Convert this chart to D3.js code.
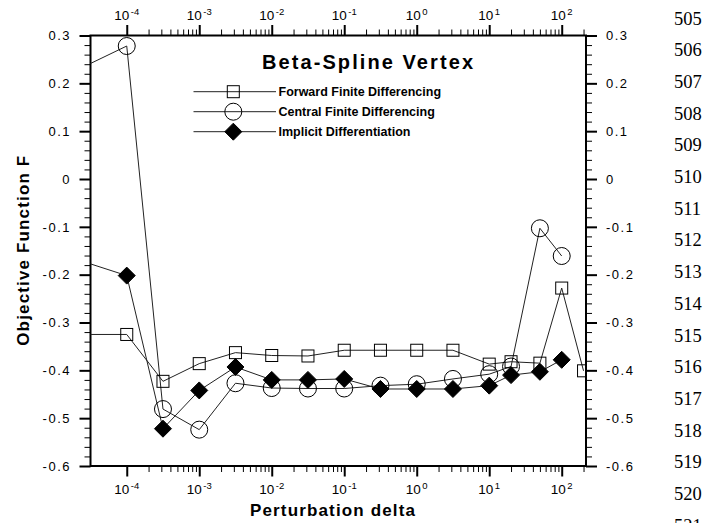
<!DOCTYPE html>
<html>
<head>
<meta charset="utf-8">
<script src="https://cdn.jsdelivr.net/npm/d3@7"></script>
<style>
  body { margin: 0; background: #fff; }
  svg { display: block; }
  text { font-family: "Liberation Sans", Arial, Helvetica, sans-serif; fill: #000; }
  .lineno { font-family: "Liberation Serif", "Times New Roman", serif; }
</style>
</head>
<body>
<script>
// Perturbation sizes (delta) used by the finite-difference studies
const deltas = [1e-5, 1e-4, 3.16e-4, 1e-3, 3.16e-3, 1e-2, 3.16e-2, 1e-1, 3.16e-1, 1, 3.16, 10, 20, 50, 100, 200];

// Objective function F for each method
const forwardFD = [-0.325, -0.325, -0.423, -0.386, -0.363, -0.369, -0.370, -0.358, -0.358, -0.358, -0.358, -0.387, -0.382, -0.385, -0.228, -0.401];
const centralFD = [0.205, 0.278, -0.481, -0.524, -0.427, -0.437, -0.438, -0.438, -0.432, -0.429, -0.418, -0.408, -0.392, -0.103, -0.161];
const implicitDiff = [-0.153, -0.202, -0.522, -0.442, -0.393, -0.420, -0.420, -0.418, -0.439, -0.439, -0.439, -0.432, -0.410, -0.403, -0.378];

const seriesNames = ["Forward Finite Differencing", "Central Finite Differencing", "Implicit Differentiation"];

// Axis ticks
const xMajorExps = [-4, -3, -2, -1, 0, 1, 2];
const yMajor = [0.3, 0.2, 0.1, 0, -0.1, -0.2, -0.3, -0.4, -0.5, -0.6];
const lineNumbers = d3.range(505, 522);

const W = 720, H = 523;
const plotL = 90.5, plotR = 586, plotT = 35.5, plotB = 466;

const x = d3.scaleLog().domain([Math.pow(10, -4.5), Math.pow(10, 2.335)]).range([plotL, plotR]);
const y = d3.scaleLinear().domain([-0.6, 0.3]).range([plotB, plotT]);

const svg = d3.select("body").append("svg").attr("width", W).attr("height", H);
svg.append("rect").attr("width", W).attr("height", H).attr("fill", "#fff");

// tick values
const xMajor = xMajorExps.map(e => Math.pow(10, e));
const xMinor = [];
for (let e = -4; e <= 2; e++) for (let k = 2; k <= 9; k++) {
  const v = k * Math.pow(10, e);
  if (v < x.domain()[1]) xMinor.push(v);
}
const yMinor = d3.range(-0.6, 0.3001, 0.02).map(v => +v.toFixed(2))
  .filter(v => !yMajor.some(m => Math.abs(m - v) < 1e-9));

function styleAxis(g, w) {
  g.select(".domain").remove();
  g.selectAll(".tick line").attr("stroke", "#000").attr("stroke-width", w);
  g.selectAll(".tick text").remove();
}

// bottom and top axes
[[d3.axisBottom, plotB], [d3.axisTop, plotT]].forEach(([axisFn, pos]) => {
  svg.append("g").attr("transform", `translate(0,${pos})`)
    .call(axisFn(x).tickValues(xMinor).tickSize(6).tickFormat(""))
    .call(g => styleAxis(g, 1));
  svg.append("g").attr("transform", `translate(0,${pos})`)
    .call(axisFn(x).tickValues(xMajor).tickSize(10.5).tickFormat(""))
    .call(g => styleAxis(g, 2));
});

// left and right axes
[[d3.axisLeft, plotL], [d3.axisRight, plotR]].forEach(([axisFn, pos]) => {
  svg.append("g").attr("transform", `translate(${pos},0)`)
    .call(axisFn(y).tickValues(yMinor).tickSize(6).tickFormat(""))
    .call(g => styleAxis(g, 1));
  svg.append("g").attr("transform", `translate(${pos},0)`)
    .call(axisFn(y).tickValues(yMajor).tickSize(11).tickFormat(""))
    .call(g => styleAxis(g, 2));
});

// frame
svg.append("rect").attr("x", plotL).attr("y", plotT)
  .attr("width", plotR - plotL).attr("height", plotB - plotT)
  .attr("fill", "none").attr("stroke", "#000").attr("stroke-width", 2);

// x tick labels with superscript exponents
function powerLabel(sel, e) {
  sel.append("tspan").text("10");
  sel.append("tspan").attr("font-size", 9.5).attr("dy", -5).attr("dx", 1.5).text(String(e));
}
xMajorExps.forEach(e => {
  svg.append("text").attr("x", x(Math.pow(10, e))).attr("y", 494)
    .attr("text-anchor", "middle").attr("font-size", 13.5).call(powerLabel, e);
  svg.append("text").attr("x", x(Math.pow(10, e))).attr("y", 19.5)
    .attr("text-anchor", "middle").attr("font-size", 13.5).call(powerLabel, e);
});

// y tick labels
const yFmt = v => String(+v.toFixed(1));
yMajor.forEach(v => {
  svg.append("text").attr("x", 71).attr("y", y(v)).attr("dy", "0.36em")
    .attr("text-anchor", "end").attr("font-size", 13).attr("letter-spacing", 1.5)
    .text(yFmt(v));
  svg.append("text").attr("x", 606).attr("y", y(v)).attr("dy", "0.36em")
    .attr("text-anchor", "start").attr("font-size", 13).attr("letter-spacing", 1.5)
    .text(yFmt(v));
});

// axis titles
svg.append("text").attr("x", 332.5).attr("y", 516)
  .attr("text-anchor", "middle").attr("font-size", 17).attr("font-weight", "bold")
  .attr("textLength", 165).attr("lengthAdjust", "spacing")
  .text("Perturbation delta");
svg.append("text").attr("transform", `translate(29,${(plotT + plotB) / 2}) rotate(-90)`)
  .attr("text-anchor", "middle").attr("font-size", 17).attr("font-weight", "bold")
  .attr("textLength", 190).attr("lengthAdjust", "spacing")
  .text("Objective Function F");

// data series, clipped to the plot frame
svg.append("clipPath").attr("id", "plotClip")
  .append("rect").attr("x", plotL).attr("y", plotT).attr("width", plotR - plotL).attr("height", plotB - plotT);
const plot = svg.append("g").attr("clip-path", "url(#plotClip)");

const line = d3.line().x(d => x(d[0])).y(d => y(d[1]));
const series = [
  { name: seriesNames[0], values: forwardFD, marker: "square" },
  { name: seriesNames[1], values: centralFD, marker: "circle" },
  { name: seriesNames[2], values: implicitDiff, marker: "diamond" }
];

function drawMarker(g, kind, cx, cy) {
  if (kind === "square") {
    g.append("rect").attr("x", cx - 6).attr("y", cy - 6).attr("width", 12).attr("height", 12)
      .attr("fill", "none").attr("stroke", "#000").attr("stroke-width", 1);
  } else if (kind === "circle") {
    g.append("circle").attr("cx", cx).attr("cy", cy).attr("r", 8.5)
      .attr("fill", "none").attr("stroke", "#000").attr("stroke-width", 1);
  } else {
    g.append("path").attr("d", `M${cx},${cy - 8.5}L${cx + 8.5},${cy}L${cx},${cy + 8.5}L${cx - 8.5},${cy}Z`)
      .attr("fill", "#000").attr("stroke", "#000").attr("stroke-width", 1);
  }
}

series.forEach(s => {
  const pts = s.values.map((v, i) => [deltas[i], v]);
  plot.append("path").datum(pts).attr("d", line)
    .attr("fill", "none").attr("stroke", "#222").attr("stroke-width", 1);
});
series.forEach(s => {
  const g = plot.append("g");
  s.values.forEach((v, i) => drawMarker(g, s.marker, x(deltas[i]), y(v)));
});

// title and legend
svg.append("text").attr("x", 262).attr("y", 69)
  .attr("font-size", 20).attr("font-weight", "bold")
  .attr("textLength", 211).attr("lengthAdjust", "spacing")
  .text("Beta-Spline Vertex");

const legendRows = [91.7, 111.7, 131.7];
series.forEach((s, i) => {
  const ly = legendRows[i];
  const g = svg.append("g");
  g.append("line").attr("x1", 193.5).attr("x2", 276).attr("y1", ly).attr("y2", ly)
    .attr("stroke", "#222").attr("stroke-width", 1);
  drawMarker(g, s.marker, 233.3, ly);
  g.append("text").attr("x", 278.5).attr("y", ly).attr("dy", "0.36em")
    .attr("font-size", 12.5).attr("font-weight", "bold").text(s.name);
});

// manuscript line numbers in the right margin (the last one runs off the page bottom)
lineNumbers.forEach((n, i) => {
  svg.append("text").attr("class", "lineno")
    .attr("x", 674).attr("y", 24.8 + i * 31.67)
    .attr("font-size", 18.5).text(n);
});
</script>
</body>
</html>
